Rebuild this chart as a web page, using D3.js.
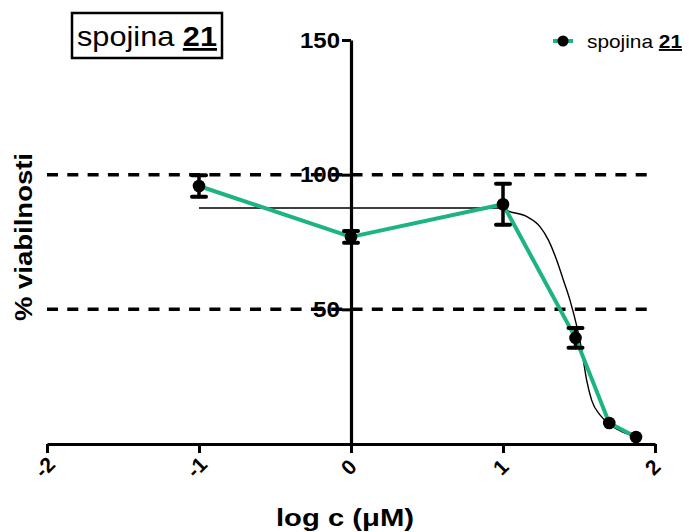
<!DOCTYPE html>
<html>
<head>
<meta charset="utf-8">
<script src="https://cdn.jsdelivr.net/npm/d3@7"></script>
<style>
  html, body { margin: 0; padding: 0; background: #fff; }
  svg { display: block; }
  text { font-family: "Liberation Sans", Arial, sans-serif; fill: #000; }
</style>
</head>
<body>
<svg id="chart" width="689" height="532"></svg>
<script>
// ---- data ----
const logC      = [-1, 0, 1, 1.477, 1.699, 1.875];
const viability = [95.8, 76.9, 89.0, 39.4, 7.8, 2.6];
const sem       = [4.0, 2.2, 7.6, 3.7, 1.0, 1.0];

// fitted (non-linear regression) curve
const fitX = [-1, 1.0, 1.02, 1.157, 1.243, 1.298, 1.353, 1.397, 1.44, 1.518, 1.55, 1.583, 1.638, 1.70, 1.875];
const fitY = [87.6, 87.6, 86.9, 84.4, 80.7, 75.8, 68.3, 60.9, 53.5, 34.9, 23.8, 16.3, 10.8, 7.4, 2.7];

const xTicks = [-2, -1, 0, 1, 2];
const yTicks = [50, 100, 150];
const refLines = [100, 50];
const seriesName = "spojina ";
const seriesNum = "21";
const xTitle = "log c (\u03BCM)";
const yTitle = "% viabilnosti";

// ---- drawing ----
const svg = d3.select("#chart");
const green = "#1db57f";

const x = d3.scaleLinear().domain([-2, 2]).range([47, 655]);
const y = d3.scaleLinear().domain([0, 150]).range([444, 40]);

// dashed reference lines
svg.selectAll("line.ref").data(refLines).join("line")
  .attr("class", "ref")
  .attr("x1", 47).attr("x2", 656)
  .attr("y1", d => y(d)).attr("y2", d => y(d))
  .attr("stroke", "#000").attr("stroke-width", 3.5)
  .attr("stroke-dasharray", "11,9.3");

// axes
const yAxis = svg.append("g")
  .attr("transform", `translate(${x(0)},0)`)
  .call(d3.axisLeft(y).tickValues(yTicks).tickSize(9).tickSizeOuter(0).tickPadding(2));
yAxis.select(".domain").attr("stroke-width", 3.2);
yAxis.selectAll(".tick line").attr("stroke-width", 3);
yAxis.selectAll(".tick text")
  .attr("textLength", 40).attr("lengthAdjust", "spacingAndGlyphs")
  .style("font-family", "'Liberation Sans', Arial, sans-serif")
  .style("font-weight", "bold").style("font-size", "22px");
yAxis.selectAll(".tick text").filter(d => d < 100).attr("textLength", 27);

const xAxis = svg.append("g")
  .attr("transform", `translate(0,${y(0)})`)
  .call(d3.axisBottom(x).tickValues(xTicks).tickSize(9).tickSizeOuter(0).tickFormat(d => String(d)));
xAxis.select(".domain").attr("stroke-width", 3.2);
xAxis.selectAll(".tick line").attr("stroke-width", 3);
xAxis.selectAll(".tick text")
  .attr("y", 0).attr("dy", null)
  .attr("text-anchor", "middle")
  .attr("dominant-baseline", "central")
  .attr("transform", "translate(-3,23) rotate(-45)")
  .style("font-family", "'Liberation Sans', Arial, sans-serif")
  .style("font-weight", "bold").style("font-size", "21px");

// fit curve
const pts = fitX.map((d, i) => [d, fitY[i]]);
svg.append("path")
  .datum(pts)
  .attr("fill", "none")
  .attr("stroke", "#000")
  .attr("stroke-width", 1.4)
  .attr("d", d3.line().x(d => x(d[0])).y(d => y(d[1])).curve(d3.curveMonotoneX));

// data line
const data = logC.map((d, i) => ({ x: d, v: viability[i], e: sem[i] }));
svg.append("path")
  .datum(data)
  .attr("fill", "none")
  .attr("stroke", green)
  .attr("stroke-width", 4)
  .attr("stroke-linejoin", "round")
  .attr("d", d3.line().x(d => x(d.x)).y(d => y(d.v)));

// error bars
const eb = svg.append("g").attr("stroke", "#000").attr("stroke-linecap", "round");
eb.selectAll("line.v").data(data).join("line")
  .attr("x1", d => x(d.x)).attr("x2", d => x(d.x))
  .attr("y1", d => y(d.v + d.e)).attr("y2", d => y(d.v - d.e))
  .attr("stroke-width", 3.5);
eb.selectAll("line.t").data(data.filter(d => d.e > 1.5)).join("line")
  .attr("x1", d => x(d.x) - 7).attr("x2", d => x(d.x) + 7)
  .attr("y1", d => y(d.v + d.e)).attr("y2", d => y(d.v + d.e))
  .attr("stroke-width", 4);
eb.selectAll("line.b").data(data.filter(d => d.e > 1.5)).join("line")
  .attr("x1", d => x(d.x) - 7).attr("x2", d => x(d.x) + 7)
  .attr("y1", d => y(d.v - d.e)).attr("y2", d => y(d.v - d.e))
  .attr("stroke-width", 4);

// points
svg.selectAll("circle.pt").data(data).join("circle")
  .attr("class", "pt")
  .attr("cx", d => x(d.x)).attr("cy", d => y(d.v)).attr("r", 6.3)
  .attr("fill", "#000");

// title box
svg.append("rect")
  .attr("x", 72).attr("y", 13).attr("width", 150).attr("height", 45)
  .attr("fill", "#fff").attr("stroke", "#000").attr("stroke-width", 2.5);
const tt = svg.append("text").attr("x", 77).attr("y", 46).style("font-size", "28px")
  .attr("textLength", 140).attr("lengthAdjust", "spacingAndGlyphs");
tt.append("tspan").text(seriesName);
tt.append("tspan").style("font-weight", "bold").style("text-decoration", "underline").text(seriesNum);

// legend
svg.append("line").attr("x1", 553).attr("x2", 573).attr("y1", 41).attr("y2", 41)
  .attr("stroke", green).attr("stroke-width", 4);
svg.append("circle").attr("cx", 563).attr("cy", 41).attr("r", 5.5).attr("fill", "#000");
const lt = svg.append("text").attr("x", 587).attr("y", 48).style("font-size", "19px")
  .attr("textLength", 95).attr("lengthAdjust", "spacingAndGlyphs");
lt.append("tspan").text(seriesName);
lt.append("tspan").style("font-weight", "bold").style("text-decoration", "underline").text(seriesNum);

// axis titles
svg.append("text")
  .attr("x", 345).attr("y", 526)
  .attr("text-anchor", "middle")
  .attr("textLength", 138).attr("lengthAdjust", "spacingAndGlyphs")
  .style("font-weight", "bold").style("font-size", "24px")
  .text(xTitle);
svg.append("text")
  .attr("transform", "translate(32,237) rotate(-90)")
  .attr("text-anchor", "middle")
  .attr("textLength", 168).attr("lengthAdjust", "spacingAndGlyphs")
  .style("font-weight", "bold").style("font-size", "24px")
  .text(yTitle);
</script>
</body>
</html>
